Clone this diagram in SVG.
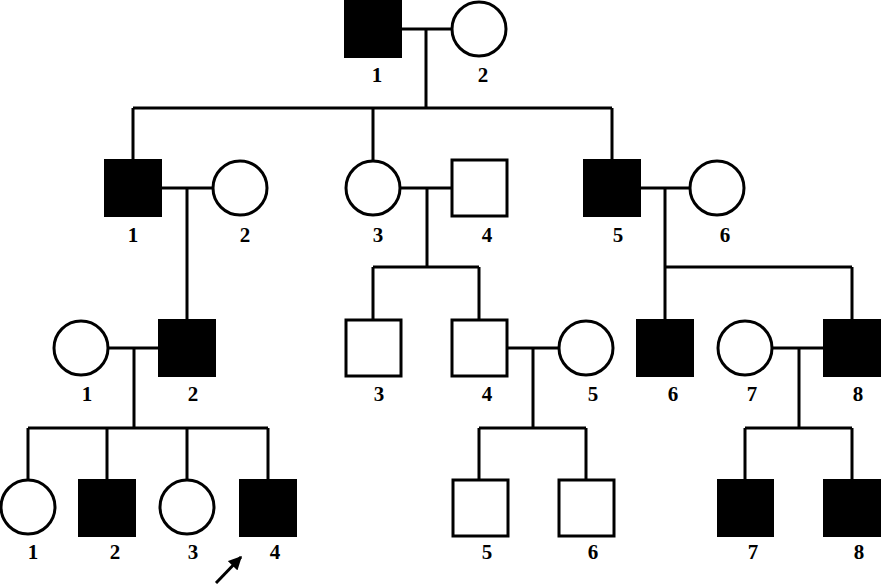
<svg xmlns="http://www.w3.org/2000/svg" width="882" height="584" viewBox="0 0 882 584">
<defs>
<style>
.ln{stroke:#000;stroke-width:3;fill:none}
.a{fill:#000;stroke:#000;stroke-width:2}
.u{fill:#fff;stroke:#000;stroke-width:3}
.t{font-family:"Liberation Serif","Times New Roman",serif;font-weight:bold;font-size:21px;text-anchor:middle;fill:#000}
</style>
<marker id="ah" viewBox="0 0 10 10" refX="9" refY="5" markerWidth="4.5" markerHeight="4.5" orient="auto" markerUnits="strokeWidth">
<path d="M0,0 L10,5 L0,10 Z" fill="#000"/>
</marker>
</defs>
<rect width="882" height="584" fill="#fff"/>
<g id="connectors" class="ln">
<path d="M401,29H451M426,29V108M133,108H612M133,108V160M373,108V160M612,108V160"/>
<path d="M161,188H212M187,188V320M400,188H452M427,188V267M373,267H479M373,267V320M479,267V320M640,188H690M665,188V267M665,267H852M665,267V320M852,267V320"/>
<path d="M108,348H159M134,348V428M28,428H268M28,428V480M107,428V480M187,428V480M268,428V480"/>
<path d="M507,348H558M533,348V428M479,428H586M479,428V480M586,428V480"/>
<path d="M772,348H824M799,348V428M745,428H852M745,428V480M852,428V480"/>
<line x1="216" y1="583" x2="241" y2="557" marker-end="url(#ah)"/>
</g>
<g id="I-1"><rect class="a" x="345" y="1" width="56" height="56"/><text class="t" x="377" y="82">1</text></g>
<g id="I-2"><circle class="u" cx="479" cy="29" r="27"/><text class="t" x="483" y="82">2</text></g>
<g id="II-1"><rect class="a" x="105" y="160" width="56" height="56"/><text class="t" x="133" y="242">1</text></g>
<g id="II-2"><circle class="u" cx="240" cy="188" r="27"/><text class="t" x="245" y="242">2</text></g>
<g id="II-3"><circle class="u" cx="373" cy="188" r="27"/><text class="t" x="378" y="242">3</text></g>
<g id="II-4"><rect class="u" x="452" y="160" width="55" height="56"/><text class="t" x="487" y="242">4</text></g>
<g id="II-5"><rect class="a" x="584" y="160" width="56" height="56"/><text class="t" x="618" y="242">5</text></g>
<g id="II-6"><circle class="u" cx="717" cy="188" r="27"/><text class="t" x="725" y="242">6</text></g>
<g id="III-1"><circle class="u" cx="81" cy="348" r="27"/><text class="t" x="87" y="401">1</text></g>
<g id="III-2"><rect class="a" x="159" y="320" width="56" height="56"/><text class="t" x="193" y="401">2</text></g>
<g id="III-3"><rect class="u" x="346" y="320" width="55" height="56"/><text class="t" x="379" y="401">3</text></g>
<g id="III-4"><rect class="u" x="452" y="320" width="55" height="56"/><text class="t" x="487" y="401">4</text></g>
<g id="III-5"><circle class="u" cx="586" cy="348" r="27"/><text class="t" x="593" y="401">5</text></g>
<g id="III-6"><rect class="a" x="637" y="320" width="56" height="56"/><text class="t" x="673" y="401">6</text></g>
<g id="III-7"><circle class="u" cx="745" cy="348" r="27"/><text class="t" x="752" y="401">7</text></g>
<g id="III-8"><rect class="a" x="824" y="320" width="56" height="56"/><text class="t" x="858" y="401">8</text></g>
<g id="IV-1"><circle class="u" cx="28" cy="507" r="27"/><text class="t" x="33" y="559">1</text></g>
<g id="IV-2"><rect class="a" x="79" y="480" width="56" height="56"/><text class="t" x="115" y="559">2</text></g>
<g id="IV-3"><circle class="u" cx="187" cy="507" r="27"/><text class="t" x="193" y="559">3</text></g>
<g id="IV-4"><rect class="a" x="240" y="480" width="56" height="56"/><text class="t" x="275" y="559">4</text></g>
<g id="IV-5"><rect class="u" x="453" y="480" width="55" height="56"/><text class="t" x="487" y="559">5</text></g>
<g id="IV-6"><rect class="u" x="559" y="480" width="55" height="56"/><text class="t" x="593" y="559">6</text></g>
<g id="IV-7"><rect class="a" x="718" y="480" width="55" height="56"/><text class="t" x="753" y="559">7</text></g>
<g id="IV-8"><rect class="a" x="824" y="480" width="56" height="56"/><text class="t" x="859" y="559">8</text></g>
</svg>
